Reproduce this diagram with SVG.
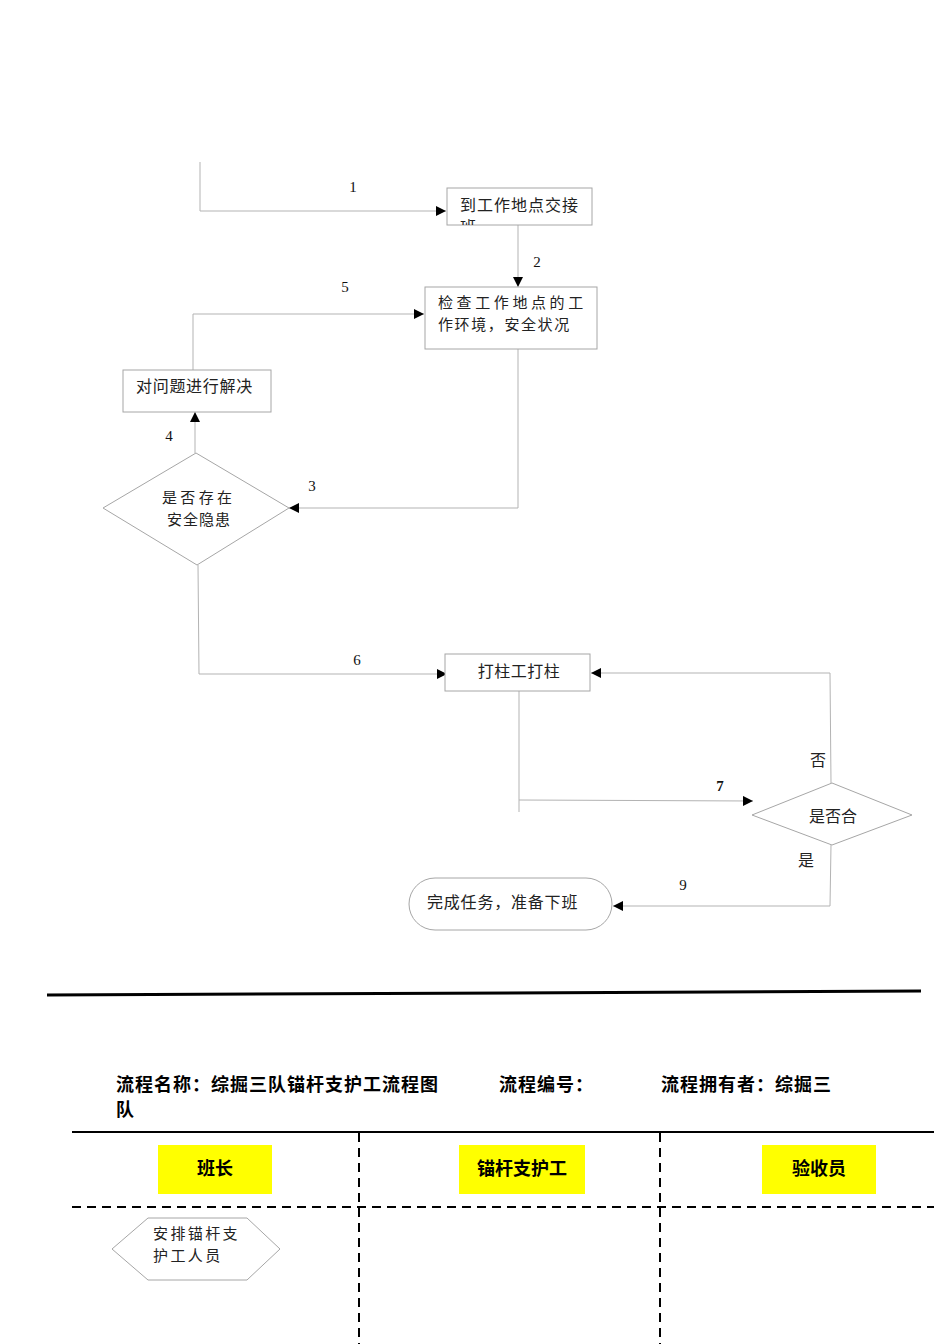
<svg xmlns="http://www.w3.org/2000/svg" width="950" height="1344" viewBox="0 0 950 1344">
<style>
.bg{fill:#fff}
.box{fill:#fff;stroke:#a6a6a6;stroke-width:1}
.conn{fill:none;stroke:#b3b3b3;stroke-width:1}
.t{font-family:"Noto Sans CJK SC","Noto Sans",sans-serif;font-size:16px;fill:#222}
.t2{font-family:"Noto Sans CJK SC","Noto Sans",sans-serif;font-size:15px;fill:#222}
.num{font-family:"Liberation Serif",serif;font-size:15px;fill:#111}
.title{font-family:"Noto Sans CJK SC","Liberation Sans",sans-serif;font-size:18px;font-weight:bold;fill:#000;letter-spacing:1px}
.lane{fill:#ffff00}
.lanet{font-family:"Noto Sans CJK SC","Liberation Sans",sans-serif;font-size:18px;font-weight:bold;fill:#000}
.dash{stroke:#000;stroke-width:2;stroke-dasharray:9,6;fill:none}
</style>
<defs>
<marker id="arr" viewBox="0 0 10 10" refX="10" refY="5" markerWidth="10" markerHeight="10" markerUnits="userSpaceOnUse" orient="auto">
<path d="M0,0 L10,5 L0,10 z" fill="#000"/>
</marker>
<clipPath id="c1"><rect x="447" y="188" width="145" height="37"/></clipPath>
</defs>
<rect class="bg" x="0" y="0" width="950" height="1344"/>

<g id="connectors">
<path class="conn" d="M200,162 L200,211 L446,211" marker-end="url(#arr)"/>
<path class="conn" d="M518,225 L518,287" marker-end="url(#arr)"/>
<path class="conn" d="M518,349 L518,508 L289,508" marker-end="url(#arr)"/>
<path class="conn" d="M195,453 L195,412" marker-end="url(#arr)"/>
<path class="conn" d="M193,370 L193,314 L424,314" marker-end="url(#arr)"/>
<path class="conn" d="M198,565 L199,674 L447,674" marker-end="url(#arr)"/>
<path class="conn" d="M831,783 L830,673 L591,673" marker-end="url(#arr)"/>
<path class="conn" d="M519,691 L519,812 M519,800 L753,801" marker-end="url(#arr)"/>
<path class="conn" d="M831,845 L830,906 L613,906" marker-end="url(#arr)"/>
<text class="num" x="353" y="192" text-anchor="middle">1</text>
<text class="num" x="537" y="267" text-anchor="middle">2</text>
<text class="num" x="312" y="491" text-anchor="middle">3</text>
<text class="num" x="169" y="441" text-anchor="middle">4</text>
<text class="num" x="345" y="292" text-anchor="middle">5</text>
<text class="num" x="357" y="665" text-anchor="middle">6</text>
<text class="num" x="720" y="791" text-anchor="middle" font-weight="bold" font-size="17">7</text>
<text class="num" x="683" y="890" text-anchor="middle" font-size="16">9</text>
<text class="t" x="818" y="766" text-anchor="middle">否</text>
<text class="t" x="806" y="866" text-anchor="middle">是</text>
</g>

<g id="n1">
<rect class="box" x="447" y="188" width="145" height="37"/>
<g clip-path="url(#c1)">
<text class="t" x="460" y="211" letter-spacing="1">到工作地点交接</text>
<text class="t" x="460" y="233">班</text>
</g>
</g>

<g id="n2">
<rect class="box" x="425" y="287" width="172" height="62"/>
<text class="t2" x="438" y="308" letter-spacing="3.6">检查工作地点的工</text>
<text class="t2" x="438" y="330" letter-spacing="1.6">作环境，安全状况</text>
</g>

<g id="n3">
<rect class="box" x="123" y="370" width="148" height="42"/>
<text class="t" x="136" y="392" letter-spacing="0.7">对问题进行解决</text>
</g>

<g id="n4">
<polygon class="box" points="103,508 196,453 289,508 197,565"/>
<text class="t2" x="197" y="503" text-anchor="middle">是 否 存 在</text>
<text class="t2" x="199" y="525" text-anchor="middle" letter-spacing="1">安全隐患</text>
</g>

<g id="n5">
<rect class="box" x="445" y="654" width="145" height="37"/>
<text class="t" x="519" y="677" text-anchor="middle" letter-spacing="0.5">打柱工打柱</text>
</g>

<g id="n6">
<polygon class="box" points="752,815 832,783 912,815 832,845"/>
<text class="t" x="833" y="822" text-anchor="middle">是否合</text>
</g>

<g id="n7">
<rect class="box" x="409" y="878" width="203" height="52" rx="26" ry="26"/>
<text class="t" x="427" y="908" letter-spacing="0.8">完成任务，准备下班</text>
</g>

<g id="header">
<line x1="47" y1="995" x2="921" y2="991" stroke="#000" stroke-width="3"/>
<text class="title" x="116" y="1091">流程名称：综掘三队锚杆支护工流程图</text>
<text class="title" x="116" y="1116">队</text>
<text class="title" x="499" y="1091">流程编号：</text>
<text class="title" x="661" y="1091">流程拥有者：综掘三</text>
<line x1="72" y1="1132" x2="934" y2="1132" stroke="#000" stroke-width="2"/>
<line class="dash" x1="359" y1="1133" x2="359" y2="1344"/>
<line class="dash" x1="660" y1="1133" x2="660" y2="1344"/>
<line class="dash" x1="72" y1="1207" x2="934" y2="1207"/>
</g>

<g id="lane1">
<rect class="lane" x="158" y="1145" width="114" height="49"/>
<text class="lanet" x="215" y="1175" text-anchor="middle">班长</text>
</g>
<g id="lane2">
<rect class="lane" x="459" y="1145" width="126" height="49"/>
<text class="lanet" x="522" y="1175" text-anchor="middle">锚杆支护工</text>
</g>
<g id="lane3">
<rect class="lane" x="762" y="1145" width="114" height="49"/>
<text class="lanet" x="819" y="1175" text-anchor="middle">验收员</text>
</g>

<g id="n8">
<polygon class="box" points="112,1249 148,1218 247,1218 280,1249 247,1280 148,1280"/>
<text class="t2" x="153" y="1239" letter-spacing="2.4">安排锚杆支</text>
<text class="t2" x="153" y="1261" letter-spacing="2.4">护工人员</text>
</g>
</svg>
